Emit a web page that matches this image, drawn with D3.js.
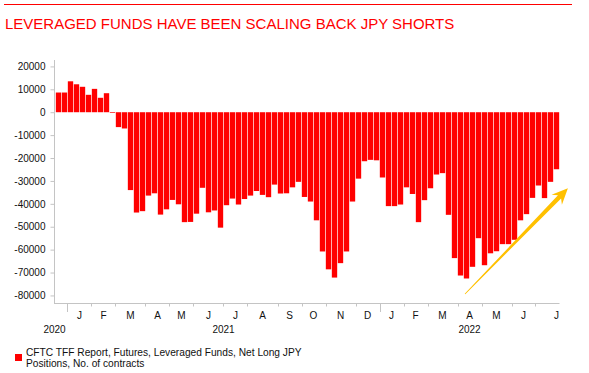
<!DOCTYPE html>
<html>
<head>
<meta charset="utf-8">
<script src="https://cdn.jsdelivr.net/npm/d3@7"></script>
<style>
  html, body { margin: 0; padding: 0; background: #fff; }
  svg { display: block; font-family: "Liberation Sans", Arial, sans-serif; }
</style>
</head>
<body>
<svg id="chart" width="589" height="373"></svg>
<script>
// ---- Data ----
const title = "LEVERAGED FUNDS HAVE BEEN SCALING BACK JPY SHORTS";
const legendLines = ["CFTC TFF Report, Futures, Leveraged Funds, Net Long JPY", "Positions, No. of contracts"];
const monthLetters = ["J","F","M","A","M","J","J","A","S","O","N","D"];
const yTicks = [20000, 10000, 0, -10000, -20000, -30000, -40000, -50000, -60000, -70000, -80000];
// weekly report dates (Tuesdays), 22 Dec 2020 .. 26 Jul 2022
const weeks = d3.timeTuesday.range(new Date(2020, 11, 22), new Date(2022, 6, 27));
const netLong = [
   8600,   8600,  13500,  12200,  11100,   7600,  10200,   6300,   8300,   -300,
  -6500,  -7100, -34000, -43800, -43200, -36400, -35400, -44700, -42400, -38300,
 -40200, -48000, -47900, -44300, -33000, -43700, -42900, -50400, -40600, -37700,
 -40300, -37900, -36400, -34400, -36100, -37100, -31600, -35500, -35400, -32800,
 -30400, -37000, -39000, -47200, -60800, -68600, -72200, -65900, -60800, -39000,
 -29000, -21400, -20800, -21000, -28500, -41000, -41000, -40300, -32800, -35700,
 -48000, -38400, -33200, -27200, -26600, -44800, -63700, -71300, -72600, -67500,
 -55000, -66800, -61600, -60700, -57600, -57600, -55700, -47200, -44500, -37400,
 -32000, -37500, -30400, -24900
];
// annotation arrow, in (week position, value) units
const arrowFrom = { pos: 68.25, value: -79400 };
const arrowTo   = { pos: 85.4,  value: -33200 };

// ---- Layout ----
const svg = d3.select("#chart");
const plot = { left: 55.5, right: 559.5, top: 60, bottom: 303 };
const axisColor = "#c4c4c4";
const red = "#ff0000";

const keys = weeks.map(d => +d);
const x = d3.scaleBand().domain(keys).range([plot.left, plot.right])
  .paddingInner(0.11).paddingOuter(0.055);
const xPos = d3.scaleLinear().domain([0, keys.length]).range([plot.left, plot.right]);
const y = d3.scaleLinear().domain([-83300, 22800]).range([plot.bottom, plot.top]);

// top rule + title
svg.append("line").attr("x1", 4).attr("x2", 572).attr("y1", 4.5).attr("y2", 4.5)
  .attr("stroke", red).attr("stroke-width", 1);
svg.append("text").attr("x", 5).attr("y", 29.3).attr("fill", red)
  .style("font-size", "15px").text(title);

// bars
svg.append("g").selectAll("rect").data(netLong).join("rect")
  .attr("x", (d, i) => x(keys[i]))
  .attr("width", x.bandwidth())
  .attr("y", d => y(Math.max(0, d)))
  .attr("height", d => Math.abs(y(d) - y(0)))
  .attr("fill", red);

// y axis
const yAxis = d3.axisLeft(y).tickValues(yTicks).tickSize(4).tickPadding(5)
  .tickFormat(d => String(d));
const gy = svg.append("g").attr("transform", "translate(54.5,0)").call(yAxis);
gy.select(".domain").attr("stroke", axisColor).attr("d", `M0,${plot.top}V${plot.bottom}`);
gy.selectAll(".tick line").attr("stroke", axisColor);
gy.selectAll(".tick text").attr("fill", "#111").style("font-size", "10px")
  .style("font-family", "'Liberation Sans', Arial, sans-serif");

// x axis
const gx = svg.append("g");
gx.append("line").attr("x1", 54).attr("x2", plot.right).attr("y1", plot.bottom + 0.5).attr("y2", plot.bottom + 0.5)
  .attr("stroke", axisColor);
const half = x.step() * x.paddingInner() / 2;
const boundary = i => x(keys[i]) - half;
// month groups
const months = [];
weeks.forEach((d, i) => {
  const m = d.getMonth(), yr = d.getFullYear();
  const last = months[months.length - 1];
  if (!last || last.m !== m || last.yr !== yr) months.push({ m, yr, start: i, end: i });
  else last.end = i;
});
months.forEach((g) => {
  const x0 = g.start === 0 ? plot.left : boundary(g.start);
  const x1 = g.end === keys.length - 1 ? plot.right : boundary(g.end + 1);
  if (g.start > 0) {
    const yearTick = g.m === 0;
    gx.append("line").attr("x1", Math.round(x0) + 0.5).attr("x2", Math.round(x0) + 0.5)
      .attr("y1", plot.bottom).attr("y2", plot.bottom + (yearTick ? 9 : 3.5))
      .attr("stroke", axisColor);
  }
  if (g.start === 0 && g.end - g.start < 3) return; // partial Dec 2020: no month label
  let lx = (x0 + x1) / 2;
  if (g.end === keys.length - 1) lx = x(keys[g.end]) + x.bandwidth() / 2;
  gx.append("text").attr("x", lx).attr("y", 318.5).attr("text-anchor", "middle")
    .attr("fill", "#111").style("font-size", "10px").text(monthLetters[g.m]);
});
// year labels
const years = d3.groups(weeks.map((d, i) => ({ yr: d.getFullYear(), i })), d => d.yr);
years.forEach(([yr, arr]) => {
  const i0 = arr[0].i, i1 = arr[arr.length - 1].i;
  const x0 = i0 === 0 ? plot.left : boundary(i0);
  const x1 = i1 === keys.length - 1 ? plot.right : boundary(i1 + 1);
  let lx = (x0 + x1) / 2;
  if (x1 - x0 < 30) lx = x0 - 1;
  svg.append("text").attr("x", lx).attr("y", 332.5).attr("text-anchor", "middle")
    .attr("fill", "#111").style("font-size", "10px").text(yr);
});

// arrow annotation
(function () {
  const tx = xPos(arrowFrom.pos), ty = y(arrowFrom.value);
  const hx = xPos(arrowTo.pos), hy = y(arrowTo.value);
  const len = Math.hypot(hx - tx, hy - ty);
  const ux = (hx - tx) / len, uy = (hy - ty) / len;
  const nx = -uy, ny = ux;
  const P = (along, side) => [tx + ux * along + nx * side, ty + uy * along + ny * side];
  const neck = len - 12, barb = len - 16;
  const pts = [
    P(0, 0.4), P(neck, 2.2), P(barb, 7.2), P(len, 0), P(barb, -7.2), P(neck, -2.2), P(0, -0.4)
  ];
  svg.append("path").attr("d", "M" + pts.map(p => p.join(",")).join("L") + "Z")
    .attr("fill", "#ffc000");
})();

// legend
svg.append("rect").attr("x", 15).attr("y", 354).attr("width", 7).attr("height", 7).attr("fill", red);
legendLines.forEach((t, i) => {
  svg.append("text").attr("x", 26).attr("y", 356 + i * 11).attr("fill", "#111")
    .style("font-size", "10.2px").text(t);
});
</script>
</body>
</html>
